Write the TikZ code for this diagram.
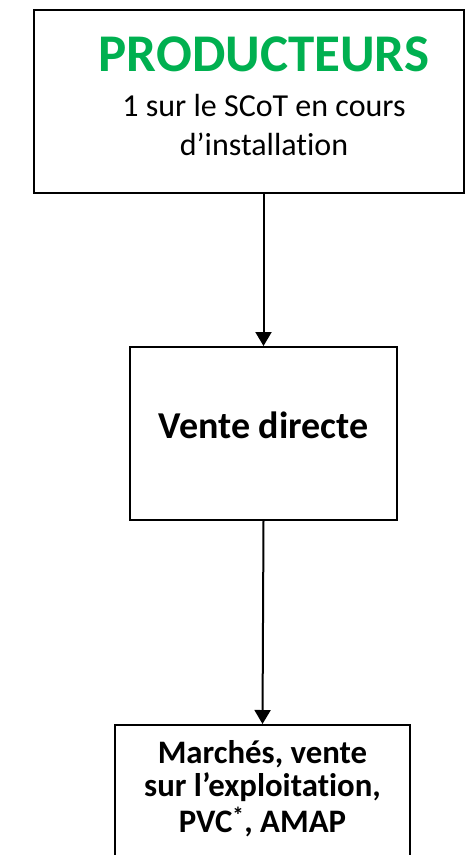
\documentclass[tikz,border=0pt]{standalone}
\usepackage{fontspec}
\setmainfont{Carlito}[Ligatures={NoCommon}]
\usetikzlibrary{arrows.meta}
\definecolor{prodgreen}{HTML}{00B050}
\tikzset{
  box/.style={draw=black, line width=2pt, rectangle, inner sep=0pt},
  flow/.style={draw=black, line width=2pt, -{Triangle[width=16pt,length=14pt]}},
  txt/.style={inner sep=0pt, anchor=base, text=black},
}
\begin{document}
\begin{tikzpicture}[x=1pt,y=-1pt]
\useasboundingbox (0,0) rectangle (465,855);
\clip (0,0) rectangle (465,855);
% boxes
\node[box, minimum width=430pt, minimum height=183pt] (prod) at (249,101.5) {};
\node[box, minimum width=267pt, minimum height=173pt] (vente) at (263.5,433.5) {};
\node[box, minimum width=295pt, minimum height=160pt] (marche) at (262.5,805) {};
% texts
\node[txt, text=prodgreen, font=\fontsize{53}{60}\selectfont\bfseries] (prodtitle) at (264,71) {PRODUCTEURS};
\node[txt, font=\fontsize{32}{39}\selectfont] (prodsub) at (264,116) {\begin{tabular}[t]{@{}c@{}}1 sur le SCoT en cours\\d’installation\end{tabular}};
\node[txt, font=\fontsize{38}{39}\selectfont\bfseries] (ventetxt) at (263.5,438) {Vente directe};
\node[txt, font=\fontsize{32.8}{33.5}\selectfont\bfseries] (marchetxt) at (262.5,763) {\begin{tabular}[t]{@{}c@{}}Marchés, vente\\sur l’exploitation,\\PVC\textsuperscript{*}, AMAP\end{tabular}};
% connectors
\draw[flow] (vente.north |- prod.south) -- (vente.north);
\draw[flow] (vente.south) -- (marche.north);
\end{tikzpicture}
\end{document}
